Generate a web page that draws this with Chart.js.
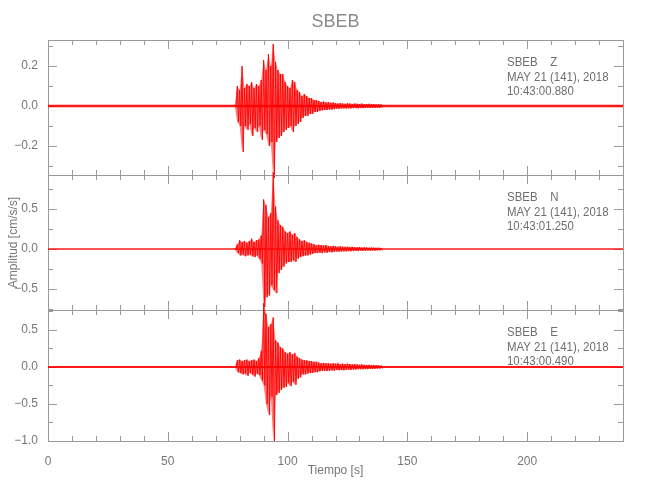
<!DOCTYPE html>
<html>
<head>
<meta charset="utf-8">
<title>SBEB</title>
<script src="https://cdn.jsdelivr.net/npm/chart.js@4.4.1/dist/chart.umd.min.js"></script>
<style>
  body { margin: 0; background: #fff; }
  #wrap { position: relative; width: 650px; height: 500px; }
  #wrap canvas { position: absolute; left: 0; top: 0; }
</style>
</head>
<body>
<div id="wrap">
  <canvas id="chartZ" width="650" height="500"></canvas>
  <canvas id="chartN" width="650" height="500"></canvas>
  <canvas id="chartE" width="650" height="500"></canvas>
</div>
<script>
// envelope of each trace, one (max, min) pair per second, starting at 78 s
const burstStart = 78;

const zHigh = [0.006, 0.10, 0.08, 0.20, 0.09, 0.11, 0.10, 0.12, 0.09, 0.11, 0.10, 0.13,
  0.23, 0.18, 0.26, 0.20, 0.31, 0.22, 0.18, 0.16, 0.16, 0.12, 0.10, 0.09, 0.13, 0.12,
  0.08, 0.07, 0.05, 0.06, 0.05, 0.04, 0.04, 0.03, 0.03, 0.025, 0.02, 0.022, 0.018, 0.02,
  0.016, 0.018, 0.014, 0.012, 0.015, 0.012, 0.011, 0.013, 0.012, 0.010, 0.012, 0.011,
  0.010, 0.012, 0.009, 0.010, 0.011, 0.009, 0.010, 0.008, 0.009, 0.008];
const zLow = [-0.006, -0.08, -0.10, -0.23, -0.10, -0.12, -0.09, -0.15, -0.11, -0.13, -0.10, -0.17,
  -0.12, -0.14, -0.20, -0.18, -0.36, -0.18, -0.16, -0.15, -0.13, -0.12, -0.11, -0.10, -0.13, -0.10,
  -0.09, -0.08, -0.06, -0.05, -0.05, -0.04, -0.04, -0.03, -0.03, -0.025, -0.022, -0.02, -0.02, -0.018,
  -0.018, -0.016, -0.013, -0.014, -0.012, -0.012, -0.013, -0.011, -0.012, -0.011, -0.010, -0.012,
  -0.010, -0.011, -0.010, -0.009, -0.010, -0.009, -0.009, -0.008, -0.009, -0.008];

const nHigh = [0.01, 0.06, 0.11, 0.09, 0.10, 0.08, 0.10, 0.13, 0.09, 0.11, 0.12, 0.17,
  0.62, 0.55, 0.40, 0.45, 0.96, 0.53, 0.36, 0.30, 0.28, 0.22, 0.20, 0.22, 0.18, 0.20,
  0.15, 0.12, 0.10, 0.11, 0.09, 0.08, 0.07, 0.06, 0.05, 0.055, 0.05, 0.045, 0.05, 0.04,
  0.035, 0.04, 0.035, 0.03, 0.035, 0.03, 0.028, 0.03, 0.025, 0.028, 0.025, 0.022,
  0.025, 0.02, 0.022, 0.02, 0.018, 0.02, 0.018, 0.016, 0.018, 0.015];
const nLow = [-0.01, -0.05, -0.08, -0.07, -0.09, -0.08, -0.07, -0.09, -0.10, -0.08, -0.12, -0.18,
  -0.72, -0.60, -0.58, -0.45, -0.51, -0.55, -0.30, -0.26, -0.22, -0.18, -0.16, -0.16, -0.14, -0.16,
  -0.12, -0.10, -0.09, -0.08, -0.08, -0.07, -0.06, -0.05, -0.05, -0.045, -0.05, -0.04, -0.045, -0.035,
  -0.04, -0.035, -0.03, -0.032, -0.03, -0.028, -0.03, -0.025, -0.027, -0.025, -0.022, -0.024,
  -0.02, -0.022, -0.02, -0.018, -0.02, -0.017, -0.018, -0.016, -0.015, -0.015];

const eHigh = [0.01, 0.09, 0.10, 0.08, 0.09, 0.10, 0.08, 0.09, 0.10, 0.08, 0.12, 0.22,
  0.86, 0.72, 0.54, 0.58, 0.67, 0.36, 0.33, 0.27, 0.25, 0.20, 0.18, 0.20, 0.17, 0.19,
  0.14, 0.12, 0.10, 0.09, 0.09, 0.08, 0.08, 0.07, 0.07, 0.06, 0.05, 0.055, 0.05, 0.05,
  0.045, 0.05, 0.045, 0.05, 0.04, 0.045, 0.04, 0.045, 0.04, 0.035, 0.04, 0.035,
  0.03, 0.035, 0.03, 0.028, 0.03, 0.025, 0.028, 0.025, 0.022, 0.02];
const eLow = [-0.01, -0.07, -0.08, -0.10, -0.09, -0.12, -0.08, -0.10, -0.13, -0.09, -0.11, -0.18,
  -0.25, -0.50, -0.65, -0.40, -1.00, -0.38, -0.35, -0.31, -0.28, -0.27, -0.22, -0.26, -0.20, -0.24,
  -0.16, -0.14, -0.10, -0.10, -0.09, -0.08, -0.08, -0.07, -0.07, -0.06, -0.05, -0.05, -0.055, -0.05,
  -0.045, -0.05, -0.04, -0.045, -0.04, -0.045, -0.04, -0.035, -0.04, -0.035, -0.035, -0.03,
  -0.03, -0.032, -0.028, -0.03, -0.025, -0.027, -0.025, -0.022, -0.02, -0.02];

// axes
const timeTicks = [0, 10, 20, 30, 40, 50, 60, 70, 80, 90, 100, 110, 120, 130, 140, 150,
  160, 170, 180, 190, 200, 210, 220, 230, 240];
const timeLabels = [0, 50, 100, 150, 200];
const zTicks = [-0.3, -0.2, -0.1, 0, 0.1, 0.2, 0.3];
const zLabels = [-0.2, 0, 0.2];
const nTicks = [-0.75, -0.5, -0.25, 0, 0.25, 0.5, 0.75];
const nLabels = [-0.5, 0, 0.5];
const eTicks = [-1.0, -0.75, -0.5, -0.25, 0, 0.25, 0.5, 0.75];
const eLabels = [-1.0, -0.5, 0, 0.5];

const textColor = '#777';
const axisColor = '#9a9a9a';
const traceColor = 'rgba(255,0,0,0.9)';
const fontFamily = "'Liberation Sans', Arial, sans-serif";

Chart.defaults.font.family = fontFamily;
Chart.defaults.font.size = 12;
Chart.defaults.color = textColor;

function trace(high, low) {
  const pts = [];
  for (let i = 0; i < high.length; i++) {
    pts.push({x: burstStart + i, y: high[i]});
    pts.push({x: burstStart + i + 0.5, y: low[i]});
  }
  return pts;
}

function envelope(vals) {
  return vals.map((v, i) => ({x: burstStart + i, y: v}));
}

function fmt(v) {
  return v.toFixed(1).replace('-', '\u2212');
}

// frame with inward ticks on all four sides (under the traces), plus the station note
const idlFrame = {
  id: 'idlFrame',
  beforeDatasetsDraw(chart) {
    const {ctx, chartArea: a} = chart;
    const x = chart.scales.x, y = chart.scales.y;
    ctx.save();
    ctx.strokeStyle = axisColor;
    ctx.lineWidth = 1;
    ctx.strokeRect(Math.round(a.left) + 0.5, Math.round(a.top) + 0.5,
      Math.round(a.right - a.left), Math.round(a.bottom - a.top));
    ctx.beginPath();
    x.ticks.forEach(t => {
      const px = Math.round(x.getPixelForValue(t.value)) + 0.5;
      const len = t.major ? 9 : 5;
      ctx.moveTo(px, a.top); ctx.lineTo(px, a.top + len);
      ctx.moveTo(px, a.bottom); ctx.lineTo(px, a.bottom - len);
    });
    y.ticks.forEach(t => {
      const py = Math.round(y.getPixelForValue(t.value)) + 0.5;
      const len = t.major ? 9 : 5;
      ctx.moveTo(a.left, py); ctx.lineTo(a.left + len, py);
      ctx.moveTo(a.right, py); ctx.lineTo(a.right - len, py);
    });
    ctx.stroke();
    ctx.restore();
  },
  afterDraw(chart, args, opts) {
    const {ctx, chartArea: a} = chart;
    // narrow lettering, like the plotting font of the original
    ctx.save();
    ctx.fillStyle = '#6e6e6e';
    ctx.font = '13px ' + fontFamily;
    ctx.textAlign = 'left';
    ctx.textBaseline = 'alphabetic';
    opts.note.forEach((s, i) => {
      ctx.save();
      ctx.translate(507, a.top + 26 + i * 14.5);
      ctx.scale(0.88, 1);
      ctx.fillText(s, 0, 0);
      ctx.restore();
    });
    ctx.restore();
  }
};

function makePanel(id, high, low, yMin, yMax, yTicks, yLabels, note, top, bottom, lastPanel, middle, noiseWidth) {
  return new Chart(document.getElementById(id), {
    type: 'line',
    data: {
      datasets: [
        {
          data: [{x: 0, y: 0}, {x: 240, y: 0}],
          borderColor: traceColor,
          borderWidth: noiseWidth,
          pointRadius: 0
        },
        {
          data: envelope(high),
          borderWidth: 0,
          pointRadius: 0,
          fill: false,
          clip: false
        },
        {
          data: envelope(low),
          borderWidth: 0,
          pointRadius: 0,
          fill: '-1',
          backgroundColor: 'rgba(255,0,0,0.5)',
          clip: false
        },
        {
          data: trace(high, low),
          borderColor: traceColor,
          borderWidth: 1,
          pointRadius: 0,
          tension: 0,
          clip: false
        }
      ]
    },
    options: {
      responsive: false,
      animation: false,
      events: [],
      layout: {padding: {left: 0, right: 27, top: top, bottom: bottom}},
      plugins: {
        legend: {display: false},
        tooltip: {enabled: false},
        filler: {propagate: false},
        title: {
          display: id === 'chartZ',
          text: 'SBEB',
          fullSize: false,
          color: '#8a8a8a',
          font: {size: 18, weight: 'normal'},
          padding: {top: 11, bottom: 7.4}
        },
        idlFrame: {note: note}
      },
      scales: {
        x: {
          type: 'linear',
          min: 0,
          max: 240,
          grid: {display: false},
          border: {display: false},
          afterBuildTicks: s => { s.ticks = timeTicks.map(v => ({value: v, major: timeLabels.includes(v)})); },
          afterFit: s => { s.height = lastPanel ? 59 : 0; },
          ticks: {
            display: lastPanel,
            autoSkip: false,
            maxRotation: 0,
            padding: 5,
            callback: v => timeLabels.includes(v) ? String(v) : ''
          },
          title: {
            display: lastPanel,
            text: 'Tiempo [s]',
            padding: {top: 0, bottom: 22}
          }
        },
        y: {
          min: yMin,
          max: yMax,
          grid: {display: false},
          border: {display: false},
          afterBuildTicks: s => { s.ticks = yTicks.map(v => ({value: v, major: yLabels.includes(v)})); },
          afterFit: s => { s.width = 48; },
          ticks: {
            autoSkip: false,
            padding: 2,
            callback: v => yLabels.includes(v) ? fmt(v) : ''
          },
          title: {
            display: middle,
            text: 'Amplitud [cm/s/s]',
            padding: {top: 6, bottom: 0}
          }
        }
      }
    },
    plugins: [idlFrame]
  });
}

makePanel('chartZ', zHigh, zLow, -0.345, 0.33, zTicks, zLabels,
  ['SBEB    Z', 'MAY 21 (141), 2018', '10:43:00.880'], 0, 325, false, false, 2.5);
makePanel('chartN', nHigh, nLow, -0.76, 0.925, nTicks, nLabels,
  ['SBEB    N', 'MAY 21 (141), 2018', '10:43:01.250'], 175, 190, false, true, 1.5);
makePanel('chartE', eHigh, eLow, -1.0, 0.77, eTicks, eLabels,
  ['SBEB    E', 'MAY 21 (141), 2018', '10:43:00.490'], 310, 0, true, false, 2);
</script>
</body>
</html>
